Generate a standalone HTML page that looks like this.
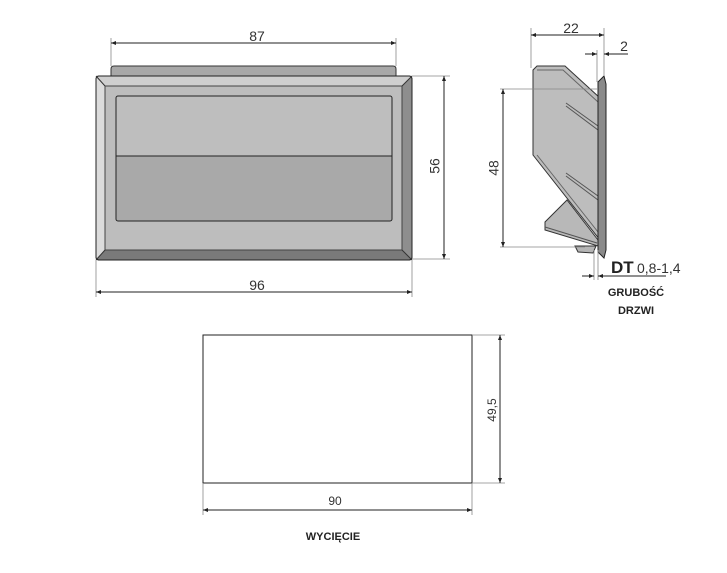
<!DOCTYPE html>
<html><head><meta charset="utf-8"><style>html,body{margin:0;padding:0;background:#fff}svg{display:block}</style></head>
<body>
<svg width="727" height="573" viewBox="0 0 727 573" xmlns="http://www.w3.org/2000/svg" font-family="Liberation Sans, DejaVu Sans, sans-serif">
<defs>
<marker id="a" viewBox="0 0 10 10" refX="10" refY="5" markerWidth="8" markerHeight="5" orient="auto-start-reverse" markerUnits="userSpaceOnUse"><path d="M0,1 L10,5 L0,9 z" fill="#222"/></marker>
</defs>
<g stroke="#333" stroke-width="1" fill="none">
<path d="M111,76 L111,69 Q111,66 114,66 L393,66 Q396,66 396,69 L396,76" fill="#a8a8a8"/>
<rect x="96" y="76" width="316" height="184" rx="3" fill="#bdbdbd" stroke="#222"/>
<polygon points="96,76 105,86 105,250 96,260" fill="#dcdcdc" stroke="none"/>
<polygon points="412,76 402,86 402,250 412,260" fill="#8e8e8e" stroke="none"/>
<polygon points="96,260 105,250 402,250 412,260" fill="#7a7a7a" stroke="none"/>
<polygon points="96,76 105,86 402,86 412,76" fill="#cfcfcf" stroke="none"/>
<rect x="96" y="76" width="316" height="184" rx="3" stroke="#222"/>
<rect x="105" y="86" width="297" height="164" stroke="#444"/>
<line x1="96" y1="76" x2="105" y2="86"/><line x1="412" y1="76" x2="402" y2="86"/>
<line x1="96" y1="260" x2="105" y2="250"/><line x1="412" y1="260" x2="402" y2="250"/>
<rect x="116" y="96" width="276" height="60" fill="#bebebe" stroke="none"/>
<rect x="116" y="156" width="276" height="65" fill="#a9a9a9" stroke="none"/>
<rect x="116" y="96" width="276" height="125" rx="2" stroke="#222"/>
<line x1="116" y1="156" x2="392" y2="156" stroke="#222"/>
<line x1="111" y1="38" x2="111" y2="66" stroke="#888" stroke-width=".8"/>
<line x1="396" y1="38" x2="396" y2="66" stroke="#888" stroke-width=".8"/>
<line x1="111" y1="43" x2="396" y2="43" stroke="#222" marker-start="url(#a)" marker-end="url(#a)"/>
<line x1="412" y1="76" x2="450" y2="76" stroke="#888" stroke-width=".8"/>
<line x1="412" y1="259" x2="450" y2="259" stroke="#888" stroke-width=".8"/>
<line x1="444" y1="76" x2="444" y2="259" stroke="#222" marker-start="url(#a)" marker-end="url(#a)"/>
<line x1="96" y1="260" x2="96" y2="297" stroke="#888" stroke-width=".8"/>
<line x1="412" y1="260" x2="412" y2="297" stroke="#888" stroke-width=".8"/>
<line x1="96" y1="292" x2="412" y2="292" stroke="#222" marker-start="url(#a)" marker-end="url(#a)"/>
<!-- side view -->
<polygon points="575,246 578,252 593,253 596,246" fill="#b5b5b5"/>
<polygon points="545,222 567,200 598,240 598,246 545,230" fill="#b8b8b8"/>
<line x1="545" y1="227" x2="597" y2="243" stroke="#555"/>
<polygon points="533,70 537,66 565,66 600,98 600,240 533,155" fill="#bdbdbd" stroke="#333"/>
<polyline points="537,70 563,70 598,102" stroke="#666"/>
<polyline points="537,155 598,232" stroke="#666"/>
<polyline points="566,103 598,126" stroke="#555"/>
<polyline points="566,106 598,130" stroke="#555"/>
<polyline points="566,173 598,196" stroke="#555"/>
<polyline points="566,176 598,200" stroke="#555"/>
<polygon points="598,82 604,76 606,84 606,250 604,258 598,252" fill="#8a8a8a" stroke="#222"/>
<line x1="531" y1="28" x2="531" y2="68" stroke="#888" stroke-width=".8"/>
<line x1="604" y1="28" x2="604" y2="76" stroke="#888" stroke-width=".8"/>
<line x1="531" y1="35" x2="604" y2="35" stroke="#222" marker-start="url(#a)" marker-end="url(#a)"/>
<line x1="597" y1="50" x2="597" y2="82" stroke="#888" stroke-width=".8"/>
<line x1="585" y1="54" x2="597" y2="54" stroke="#222" marker-end="url(#a)"/>
<line x1="616" y1="54" x2="604" y2="54" stroke="#222" marker-end="url(#a)"/>
<line x1="616" y1="54" x2="628" y2="54" stroke="#222"/>
<line x1="500" y1="89" x2="598" y2="89" stroke="#888" stroke-width=".8"/>
<line x1="500" y1="247" x2="585" y2="247" stroke="#888" stroke-width=".8"/>
<line x1="503" y1="89" x2="503" y2="247" stroke="#222" marker-start="url(#a)" marker-end="url(#a)"/>
<line x1="594" y1="250" x2="594" y2="280" stroke="#888" stroke-width=".8"/>
<line x1="598" y1="250" x2="598" y2="280" stroke="#888" stroke-width=".8"/>
<line x1="582" y1="276" x2="594" y2="276" stroke="#222" marker-end="url(#a)"/>
<line x1="610" y1="276" x2="598" y2="276" stroke="#222" marker-end="url(#a)"/>
<line x1="610" y1="276" x2="666" y2="276" stroke="#222"/>
<rect x="203" y="335" width="269" height="148" stroke="#222"/>
<line x1="472" y1="335" x2="505" y2="335" stroke="#888" stroke-width=".8"/>
<line x1="472" y1="483" x2="505" y2="483" stroke="#888" stroke-width=".8"/>
<line x1="500" y1="335" x2="500" y2="483" stroke="#222" marker-start="url(#a)" marker-end="url(#a)"/>
<line x1="203" y1="483" x2="203" y2="515" stroke="#888" stroke-width=".8"/>
<line x1="472" y1="483" x2="472" y2="515" stroke="#888" stroke-width=".8"/>
<line x1="203" y1="510" x2="472" y2="510" stroke="#222" marker-start="url(#a)" marker-end="url(#a)"/>
</g>
<g fill="#333" font-size="14" text-anchor="middle">
<text x="257" y="41">87</text>
<text x="257" y="290">96</text>
<text x="436" y="166" transform="rotate(-90 436 166)" dominant-baseline="middle">56</text>
<text x="571" y="33">22</text>
<text x="624" y="51">2</text>
<text x="495" y="168" transform="rotate(-90 495 168)" dominant-baseline="middle">48</text>
<text x="335" y="505" font-size="12">90</text>
<text x="493" y="410" font-size="12" transform="rotate(-90 493 410)" dominant-baseline="middle">49,5</text>
</g>
<text x="611" y="273" font-size="17" font-weight="bold" fill="#222">DT</text>
<text x="637" y="273" font-size="14" fill="#333">0,8-1,4</text>
<g font-size="11" font-weight="bold" fill="#222" text-anchor="middle">
<text x="636" y="296">GRUBOŚĆ</text>
<text x="636" y="314">DRZWI</text>
<text x="333" y="540">WYCIĘCIE</text>
</g>
</svg>
</body></html>
